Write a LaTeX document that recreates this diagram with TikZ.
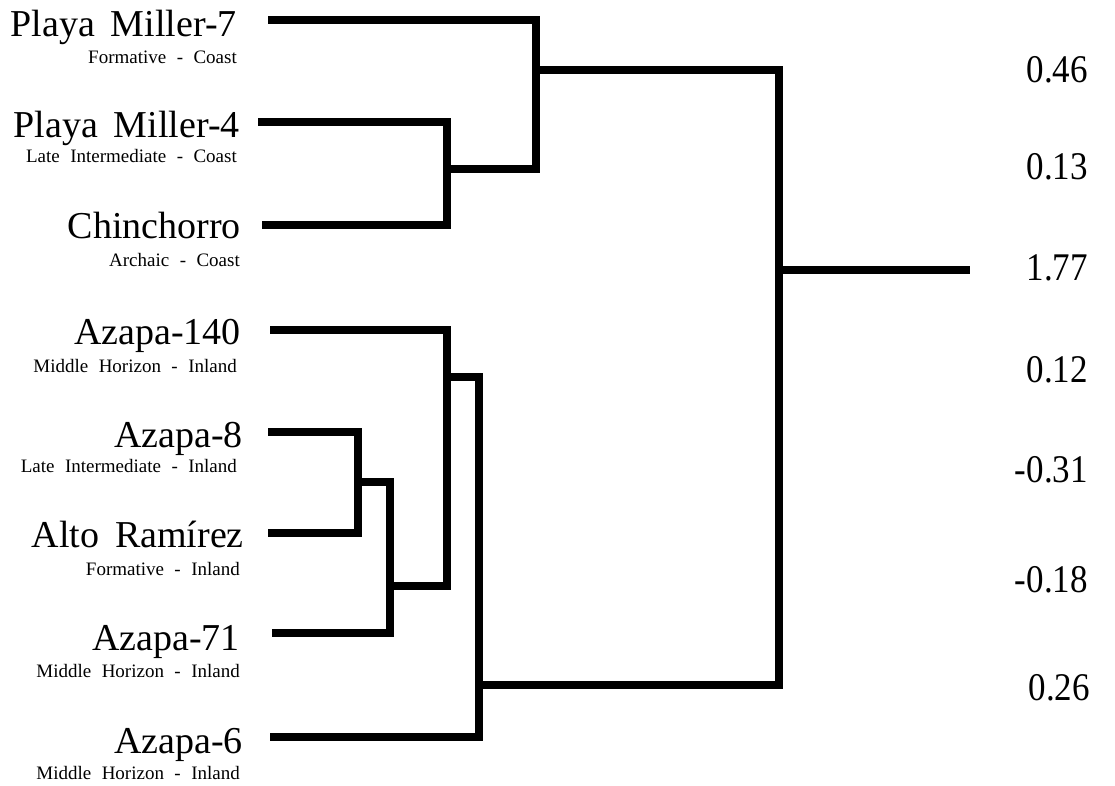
\documentclass[tikz,border=0pt]{standalone}
\usepackage{fontspec}
\setmainfont{Liberation Serif}
\newcommand\tallnum[1]{\scalebox{1}[1.12]{#1}}
\newcommand\sitefont{\fontsize{38}{38}\selectfont\setlength{\spaceskip}{0.42em}}
\newcommand\periodfont{\fontsize{19}{19}\selectfont\setlength{\spaceskip}{0.55em}}
\begin{document}
\begin{tikzpicture}[x=1pt,y=-1pt]
\tikzset{
  branch/.style={line width=8pt, line join=miter, line cap=butt},
  site/.style={anchor=base east, inner sep=0pt, font=\sitefont},
  period/.style={anchor=base east, inner sep=0pt, font=\periodfont},
  score/.style={anchor=base east, inner sep=0pt, font=\fontsize{35}{35}\selectfont}
}
\useasboundingbox (0,0) rectangle (1115,785);

% site labels
\node[site] (pm7) at (237,36) {Playa Miller-7};
\node[period] (pm7s) at (237,63) {Formative - Coast};
\node[site] (pm4) at (240,137) {Playa Miller-4};
\node[period] (pm4s) at (237,162) {Late Intermediate - Coast};
\node[site] (chin) at (241,238) {Chinchorro};
\node[period] (chins) at (240,266) {Archaic - Coast};
\node[site] (az140) at (241,344) {Azapa-140};
\node[period] (az140s) at (237,372) {Middle Horizon - Inland};
\node[site] (az8) at (243,447) {Azapa-8};
\node[period] (az8s) at (237,472) {Late Intermediate - Inland};
\node[site] (alto) at (244,547) {Alto Ramírez};
\node[period] (altos) at (240,575) {Formative - Inland};
\node[site] (az71) at (240,650) {Azapa-71};
\node[period] (az71s) at (240,677) {Middle Horizon - Inland};
\node[site] (az6) at (243,753) {Azapa-6};
\node[period] (az6s) at (240,779) {Middle Horizon - Inland};

% values column
\node[score] (v1) at (1088,82) {\tallnum{0.46}};
\node[score] (v2) at (1088,179) {\tallnum{0.13}};
\node[score] (v3) at (1088,280) {\tallnum{1.77}};
\node[score] (v4) at (1088,382) {\tallnum{0.12}};
\node[score] (v5) at (1088,482) {\tallnum{-0.31}};
\node[score] (v6) at (1088,592) {\tallnum{-0.18}};
\node[score] (v7) at (1090,700) {\tallnum{0.26}};

% leaf ends
\coordinate (lpm7) at (268,20);
\coordinate (lpm4) at (258,122);
\coordinate (lchin) at (262,225);
\coordinate (laz140) at (270,330);
\coordinate (laz8) at (268,432);
\coordinate (lalto) at (268,533);
\coordinate (laz71) at (272,633);
\coordinate (laz6) at (270,737);

% joins
\coordinate (jB) at (447,169);
\coordinate (jA) at (536,70);
\coordinate (jC) at (358,482);
\coordinate (jD) at (390,586);
\coordinate (jF) at (447,377);
\coordinate (jE) at (479,685);
\coordinate (jR) at (779,270);
\coordinate (stem) at (970,270);

% dendrogram
\draw[branch] (lpm4) -| (jB) |- (lchin);
\draw[branch] (lpm7) -| (jA) |- (jB);
\draw[branch] (laz8) -| (jC) |- (lalto);
\draw[branch] (jC) -| (jD) |- (laz71);
\draw[branch] (laz140) -| (jF) |- (jD);
\draw[branch] (jF) -| (jE) |- (laz6);
\draw[branch] (jA) -| (jR) |- (jE);
\draw[branch] (jR) -- (stem);
\end{tikzpicture}
\end{document}
